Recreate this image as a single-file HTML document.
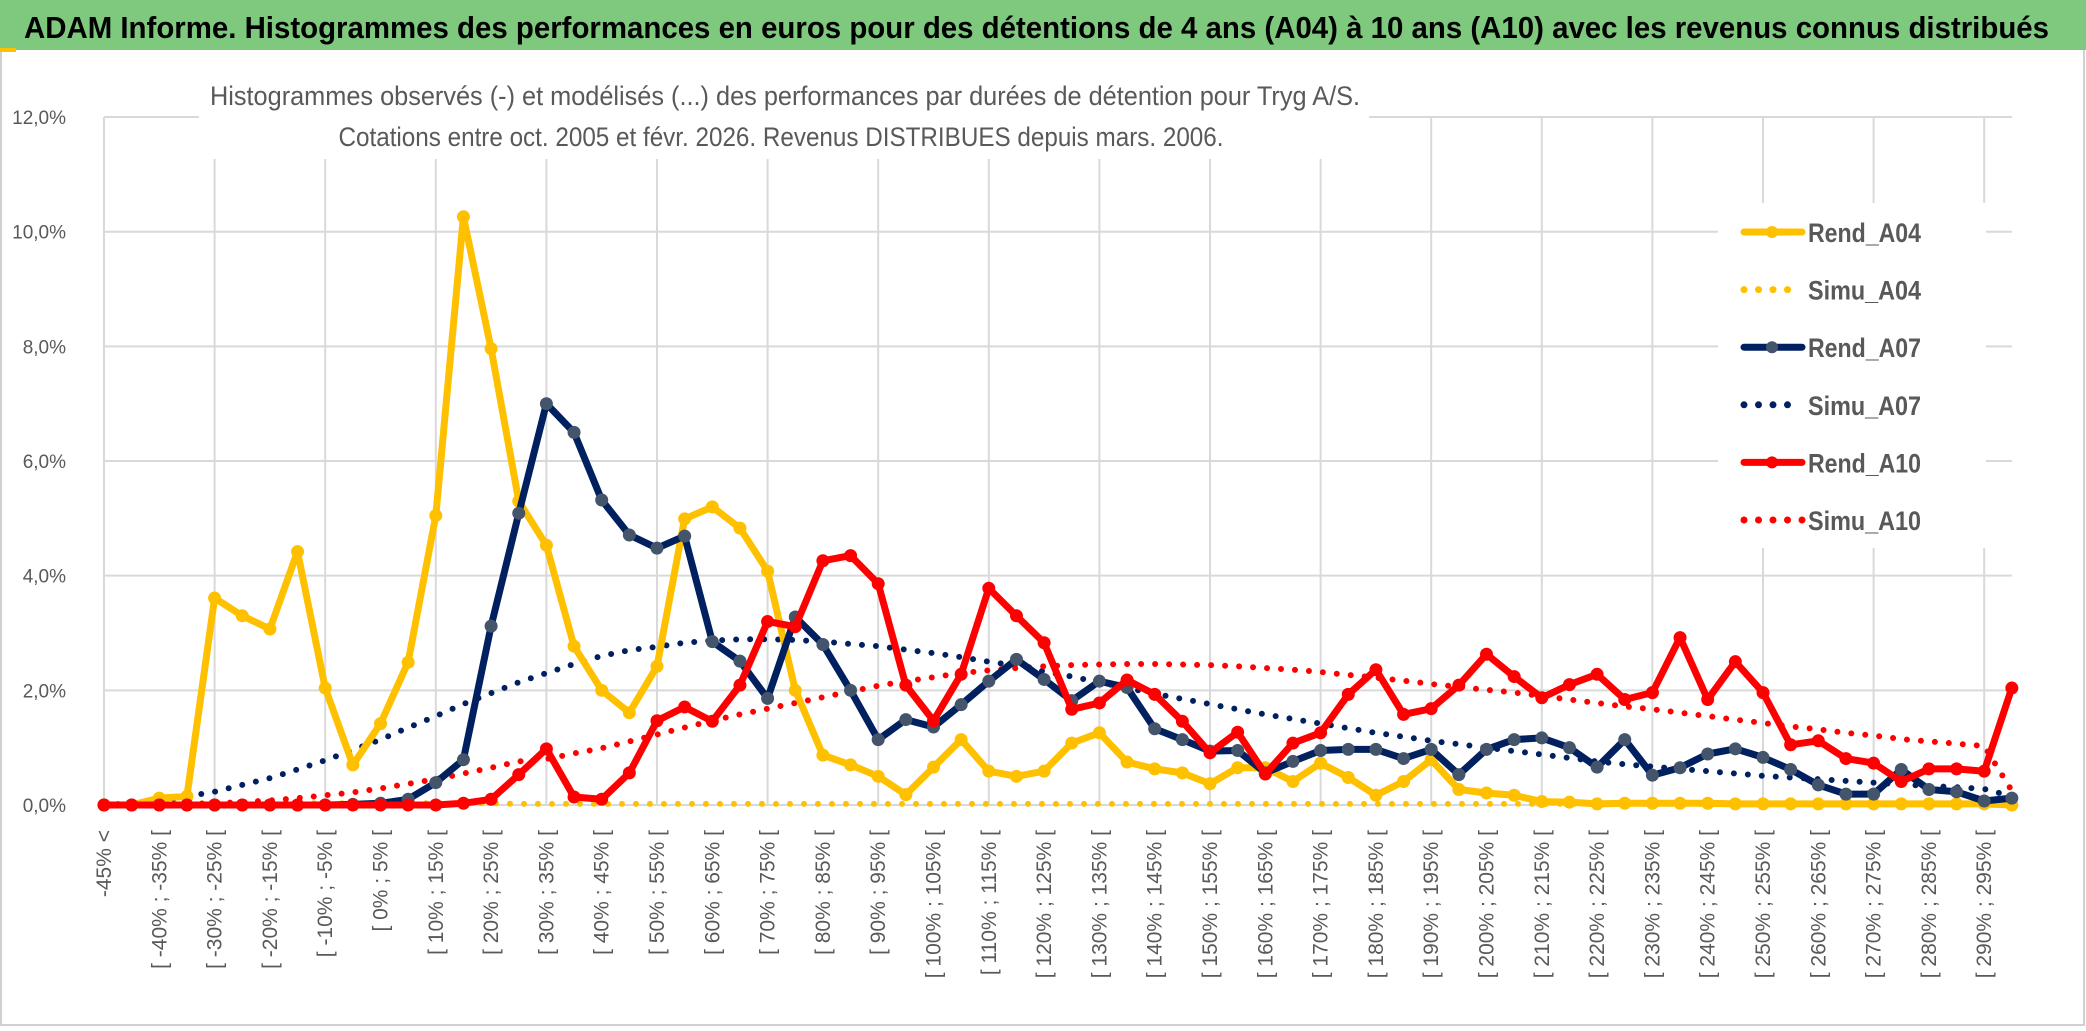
<!DOCTYPE html>
<html>
<head>
<meta charset="utf-8">
<style>
html,body{margin:0;padding:0;background:#fff;}
svg{display:block;}
text{font-family:"Liberation Sans",sans-serif;}
</style>
</head>
<body>
<svg id="chart" width="2086" height="1031" viewBox="0 0 2086 1031" xmlns="http://www.w3.org/2000/svg">
  <rect x="0" y="0" width="2086" height="1031" fill="#ffffff"/>
  <rect x="1" y="1" width="2083" height="1024" fill="none" stroke="#d0d0d0" stroke-width="2"/>
  <rect x="0" y="0" width="2086" height="50" fill="#7ec97e"/>
  <rect x="0" y="48" width="16" height="4" fill="#ffc000"/>
  <text x="24" y="38" font-size="31" font-weight="bold" fill="#000" textLength="2025" lengthAdjust="spacingAndGlyphs">ADAM Informe. Histogrammes des performances en euros pour des détentions de 4 ans (A04) à 10 ans (A10) avec les revenus connus distribués</text>
  <g id="grid"></g>
  <rect x="199" y="58" width="1170" height="101" fill="#ffffff"/>
  <text x="785" y="105" font-size="27" fill="#595959" text-anchor="middle" textLength="1150" lengthAdjust="spacingAndGlyphs">Histogrammes observés (-) et modélisés (...) des performances par durées de détention pour Tryg A/S.</text>
  <text x="781" y="146" font-size="27" fill="#595959" text-anchor="middle" textLength="885" lengthAdjust="spacingAndGlyphs">Cotations entre oct. 2005 et févr. 2026. Revenus DISTRIBUES depuis mars. 2006.</text>
  <g id="yaxis"></g>
  <g id="xaxis"></g>
  <g id="series"></g>
  <g id="legend"></g>
</svg>
<script>
const rendA04 = [0,0,0.12,0.15,3.61,3.3,3.07,4.42,2.04,0.7,
1.42,2.49,5.05,10.26,7.96,5.3,4.53,2.77,2.0,1.61,
2.42,4.99,5.2,4.83,4.08,2.0,0.87,0.7,0.5,0.18,
0.66,1.14,0.59,0.5,0.59,1.08,1.26,0.75,0.63,0.56,
0.37,0.65,0.65,0.41,0.73,0.48,0.17,0.41,0.79,0.27,
0.21,0.17,0.06,0.05,0.02,0.03,0.03,0.03,0.03,0.02,
0.02,0.02,0.02,0.02,0.02,0.02,0.02,0.02,0.02,0.0];
const simuA04 = [0,0.02,0.03,0.03,0.03,0.03,0.03,0.03,0.03,0.03,
0.03,0.03,0.03,0.03,0.03,0.02,0.02,0.02,0.02,0.02,
0.02,0.02,0.02,0.02,0.02,0.02,0.02,0.02,0.02,0.02,
0.02,0.02,0.02,0.02,0.02,0.02,0.02,0.02,0.02,0.02,
0.02,0.02,0.02,0.02,0.02,0.02,0.02,0.02,0.02,0.02,
0.02,0.02,0.02,0.02,0.02,0.02,0.02,0.02,0.02,0.02,
0.02,0.02,0.02,0.02,0.02,0.02,0.02,0.02,0.02,0.0];
const rendA07 = [0,0,0,0,0,0,0,0,0,0.01,
0.03,0.1,0.39,0.79,3.12,5.09,7.0,6.5,5.32,4.71,
4.48,4.69,2.85,2.51,1.86,3.28,2.8,2.0,1.14,1.49,
1.36,1.75,2.16,2.54,2.19,1.82,2.16,2.05,1.33,1.14,
0.94,0.95,0.56,0.76,0.95,0.97,0.97,0.81,0.97,0.53,
0.97,1.14,1.17,1.0,0.66,1.14,0.52,0.65,0.89,0.98,
0.83,0.62,0.35,0.19,0.19,0.62,0.27,0.23,0.07,0.12];
const simuA07 = [0,0.03,0.07,0.15,0.23,0.35,0.47,0.62,0.78,0.96,
1.14,1.35,1.55,1.76,1.95,2.14,2.3,2.46,2.6,2.7,
2.76,2.83,2.87,2.89,2.89,2.88,2.85,2.81,2.77,2.71,
2.65,2.58,2.5,2.43,2.33,2.24,2.14,2.04,1.94,1.85,
1.76,1.67,1.58,1.5,1.42,1.34,1.26,1.19,1.12,1.06,
1.0,0.94,0.88,0.82,0.76,0.71,0.67,0.63,0.59,0.55,
0.51,0.48,0.45,0.42,0.39,0.36,0.33,0.31,0.28,0.15];
const rendA10 = [0,0,0,0,0,0,0,0,0,0,
0,0,0,0.03,0.1,0.53,0.98,0.14,0.1,0.56,
1.47,1.71,1.46,2.09,3.2,3.11,4.26,4.35,3.86,2.09,
1.47,2.28,3.78,3.3,2.83,1.67,1.78,2.18,1.93,1.46,
0.91,1.27,0.54,1.08,1.26,1.93,2.36,1.58,1.68,2.09,
2.63,2.24,1.87,2.1,2.28,1.84,1.96,2.92,1.84,2.5,
1.96,1.05,1.12,0.81,0.73,0.41,0.63,0.63,0.59,2.04];
const simuA10 = [0,0,0.01,0.02,0.03,0.05,0.08,0.12,0.17,0.22,
0.29,0.37,0.45,0.55,0.65,0.76,0.8,0.9,0.99,1.11,
1.23,1.35,1.47,1.58,1.68,1.78,1.88,1.98,2.08,2.16,
2.23,2.3,2.35,2.39,2.42,2.44,2.45,2.46,2.46,2.45,
2.44,2.42,2.39,2.36,2.32,2.27,2.22,2.17,2.11,2.06,
2.01,1.96,1.9,1.84,1.78,1.72,1.67,1.61,1.55,1.49,
1.43,1.37,1.32,1.26,1.21,1.15,1.11,1.07,1.03,0.25];
const yTicks = [0,2,4,6,8,10,12];
const yTickLabels = ["0,0%","2,0%","4,0%","6,0%","8,0%","10,0%","12,0%"];
const seriesNames = ["Rend_A04","Simu_A04","Rend_A07","Simu_A07","Rend_A10","Simu_A10"];

const NS = "http://www.w3.org/2000/svg";
const X0 = 104, XSTEP = 27.65, Y0 = 805, YPER = 57.33;
const N = rendA04.length;
const categories = [];
for (let i = 0; i < N; i++) {
  if (i === 0) categories.push("-45% <");
  else { const a = -45 + 5*(i-1); categories.push("[ " + a + "% ; " + (a+5) + "% ["); }
}
function xS(i){ return X0 + XSTEP*i; }
function yS(v){ return Y0 - YPER*v; }
function mk(tag, attrs, parent){
  const e = document.createElementNS(NS, tag);
  for (const k in attrs) e.setAttribute(k, attrs[k]);
  parent.appendChild(e);
  return e;
}
const grid = document.getElementById('grid');
const xRight = xS(N-1);
yTicks.forEach((t, k) => {
  const l = mk('line', {x1:X0, x2:xRight, y1:yS(t), y2:yS(t), stroke:'#d9d9d9', 'stroke-width':2}, grid);
  
  
});
for (let i = 0; i < N; i += 4) {
  const l = mk('line', {x1:xS(i), x2:xS(i), y1:yS(12), y2:Y0, stroke:'#d9d9d9', 'stroke-width':2}, grid);
  
  
}
const yaxis = document.getElementById('yaxis');
yTicks.forEach((t, k) => {
  const tx = mk('text', {x:66, y:yS(t)+7, 'font-size':19, fill:'#595959', 'text-anchor':'end'}, yaxis);
  tx.textContent = yTickLabels[k];
  
  
});
const xaxis = document.getElementById('xaxis');
for (let i = 0; i < N; i += 2) {
  const x = xS(i) + 7;
  const tx = mk('text', {x:x, y:830, 'font-size':21, fill:'#595959', 'text-anchor':'end', transform:'rotate(-90 '+x+' 830)'}, xaxis);
  tx.textContent = categories[i];
  
  
}
const seriesG = document.getElementById('series');
function pts(arr){ return arr.map((v,i)=>xS(i).toFixed(1)+','+yS(v).toFixed(1)).join(' '); }
function dotted(arr, color, name){
  const p = mk('polyline', {points:pts(arr), fill:'none', stroke:color, 'stroke-width':6, 'stroke-linecap':'round', 'stroke-dasharray':'0 14'}, seriesG);
  
  
}
function solid(arr, color, mcolor, name){
  const p = mk('polyline', {points:pts(arr), fill:'none', stroke:color, 'stroke-width':7, 'stroke-linejoin':'round', 'stroke-linecap':'round'}, seriesG);
  
  
  arr.forEach((v,i)=>{
    const c = mk('circle', {cx:xS(i), cy:yS(v), r:6.5, fill:mcolor}, seriesG);
    
    
  });
}
dotted(simuA04, '#ffc000', 'simu-a04-line');
dotted(simuA07, '#002060', 'simu-a07-line');
dotted(simuA10, '#ff0000', 'simu-a10-line');
solid(rendA04, '#ffc000', '#ffc000', 'rend-a04-line');
solid(rendA07, '#002060', '#44546a', 'rend-a07-line');
solid(rendA10, '#ff0000', '#ff0000', 'rend-a10-line');

const legend = document.getElementById('legend');
const lb = mk('rect', {x:1718, y:203, width:268, height:345, fill:'#ffffff'}, legend);


const legColors = ['#ffc000','#ffc000','#002060','#002060','#ff0000','#ff0000'];
const legMarker = ['#ffc000','#ffc000','#44546a','#44546a','#ff0000','#ff0000'];
seriesNames.forEach((nm, k) => {
  const y = 232 + k*57.6;
  const g = mk('g', {}, legend);
  
  
  if (k % 2 === 0) {
    mk('line', {x1:1744, x2:1802, y1:y, y2:y, stroke:legColors[k], 'stroke-width':7, 'stroke-linecap':'round'}, g);
    mk('circle', {cx:1772, cy:y, r:6, fill:legMarker[k]}, g);
  } else {
    const n = k === 5 ? 5 : 4;
    for (let d = 0; d < n; d++) mk('circle', {cx:1744 + d*14.5, cy:y, r:3.5, fill:legColors[k]}, g);
  }
  const t = mk('text', {x:1808, y:y+10, 'font-size':27, fill:'#595959', 'font-weight':'bold', textLength:113, lengthAdjust:'spacingAndGlyphs'}, g);
  t.textContent = nm;
});
</script>
</body>
</html>
